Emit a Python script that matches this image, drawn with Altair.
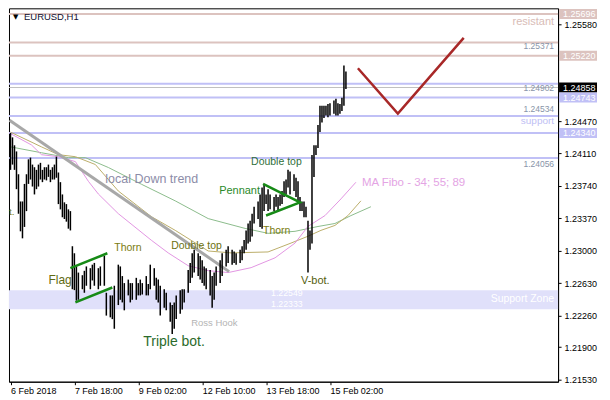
import altair as alt
import pandas as pd

W, H = 550, 374
FONT = "Liberation Sans"

# ---------------- data ----------------
BAR_HOUR = [0, 1, 2, 3, 4, 5, 6, 7, 8, 9, 10, 11, 12, 13, 14, 15, 16, 17, 18, 19, 20, 21, 22, 23,
            24, 25, 26, 27, 28, 29, 30, 31, 32, 33, 34, 36, 37, 38, 40, 41, 42, 44, 45, 47, 48, 50,
            51, 52, 54, 55, 56, 57, 59, 60, 61, 63, 64, 65, 66, 68, 69, 70, 72, 73, 74, 75, 77, 78,
            80, 81, 82, 83, 85, 86, 87, 89, 90, 91, 92, 94, 95, 96, 97, 98, 100, 101, 102, 103, 105,
            106, 108, 109, 111, 112, 113, 115, 116, 117, 118, 119, 120, 121, 122, 124, 125, 126, 127,
            128, 129, 130, 132, 133, 134, 135, 136, 137, 138, 139, 140, 142, 143, 144, 145, 146, 147,
            148, 149, 150, 151, 152, 153, 154, 155, 156, 157, 158, 159, 160, 162, 163, 164, 165, 166,
            167, 168]
BAR_HIGH = [1.2434, 1.2429, 1.2420, 1.2413, 1.2387, 1.2356, 1.2356, 1.2376, 1.2387, 1.2404, 1.2406,
            1.2398, 1.2395, 1.2392, 1.2398, 1.2400, 1.2392, 1.2395, 1.2395, 1.2398, 1.2392, 1.2395,
            1.2398, 1.2407, 1.2389, 1.2378, 1.2364, 1.2355, 1.2353, 1.2347, 1.2345, 1.2305, 1.2297,
            1.2282, 1.2275, 1.2272, 1.2277, 1.2282, 1.2280, 1.2284, 1.2286, 1.2280, 1.2282, 1.2294,
            1.2252, 1.2249, 1.2249, 1.2260, 1.2284, 1.2282, 1.2271, 1.2263, 1.2267, 1.2263, 1.2263,
            1.2269, 1.2263, 1.2267, 1.2263, 1.2271, 1.2262, 1.2284, 1.2280, 1.2269, 1.2267, 1.2260,
            1.2256, 1.2252, 1.2241, 1.2238, 1.2241, 1.2249, 1.2255, 1.2256, 1.2256, 1.2278, 1.2286,
            1.2297, 1.2301, 1.2297, 1.2294, 1.2289, 1.2282, 1.2280, 1.2278, 1.2271, 1.2275, 1.2282,
            1.2289, 1.2297, 1.2301, 1.2305, 1.2301, 1.2299, 1.2297, 1.2301, 1.2305, 1.2312, 1.2323,
            1.2331, 1.2334, 1.2342, 1.2350, 1.2356, 1.2364, 1.2372, 1.2376, 1.2364, 1.2370, 1.2364,
            1.2361, 1.2364, 1.2361, 1.2364, 1.2368, 1.2379, 1.2381, 1.2392, 1.2390, 1.2387, 1.2383,
            1.2379, 1.2361, 1.2356, 1.2356, 1.2350, 1.2334, 1.2323, 1.2409, 1.2420, 1.2420, 1.2443,
            1.2465, 1.2465, 1.2465, 1.2465, 1.2467, 1.2468, 1.2471, 1.2473, 1.2468, 1.2467, 1.2474,
            1.2511, 1.2504]
BAR_LOW = [1.2392, 1.2398, 1.2392, 1.2370, 1.2342, 1.2322, 1.2314, 1.2327, 1.2345, 1.2376, 1.2381,
           1.2373, 1.2364, 1.2370, 1.2373, 1.2381, 1.2378, 1.2381, 1.2380, 1.2384, 1.2378, 1.2381,
           1.2381, 1.2383, 1.2353, 1.2347, 1.2338, 1.2336, 1.2333, 1.2325, 1.2323, 1.2256, 1.2255,
           1.2243, 1.2244, 1.2256, 1.2252, 1.2260, 1.2256, 1.2266, 1.2260, 1.2256, 1.2260, 1.2260,
           1.2226, 1.2224, 1.2222, 1.2211, 1.2238, 1.2244, 1.2241, 1.2232, 1.2249, 1.2241, 1.2244,
           1.2244, 1.2249, 1.2249, 1.2250, 1.2249, 1.2249, 1.2256, 1.2260, 1.2244, 1.2241, 1.2226,
           1.2235, 1.2232, 1.2219, 1.2205, 1.2211, 1.2222, 1.2228, 1.2233, 1.2241, 1.2252, 1.2263,
           1.2269, 1.2275, 1.2271, 1.2267, 1.2263, 1.2260, 1.2256, 1.2249, 1.2235, 1.2244, 1.2260,
           1.2263, 1.2271, 1.2282, 1.2286, 1.2284, 1.2286, 1.2284, 1.2286, 1.2289, 1.2297, 1.2301,
           1.2308, 1.2310, 1.2316, 1.2331, 1.2336, 1.2327, 1.2325, 1.2345, 1.2353, 1.2345, 1.2347,
           1.2345, 1.2350, 1.2345, 1.2351, 1.2353, 1.2361, 1.2364, 1.2372, 1.2364, 1.2368, 1.2361,
           1.2356, 1.2345, 1.2345, 1.2338, 1.2338, 1.2275, 1.2301, 1.2308, 1.2384, 1.2409, 1.2417,
           1.2435, 1.2446, 1.2451, 1.2454, 1.2452, 1.2454, 1.2456, 1.2454, 1.2454, 1.2456, 1.2459,
           1.2465, 1.2484]

X_TICKS = [0, 32, 64, 96, 128, 160]
X_LABELS = ["6 Feb 2018", "7 Feb 18:00", "9 Feb 02:00", "12 Feb 10:00", "13 Feb 18:00", "15 Feb 02:00"]
Y_TICKS = [1.2153, 1.2190, 1.2226, 1.2263, 1.2300, 1.2337, 1.2374, 1.2411, 1.2447, 1.2558]

RESIST_LEVELS = [1.25696, 1.25371, 1.25220]
SUPPORT_LEVELS = [1.24902, 1.24743, 1.24534, 1.24340, 1.24056]
CURRENT_PRICE = [1.24858]
ZONE = [1.22333, 1.22549]

MARKER_PRICE = [1.25696, 1.25220, 1.24858, 1.24743, 1.24340]
MARKER_KIND = ["resistance", "resistance", "bid", "support", "support"]

TREND_HOUR = [-0.5, 109.5]
TREND_PRICE = [1.24484, 1.22761]

MA34_HOUR = [-0.5, 10.5, 15.5, 24, 32.5, 39, 44, 54, 70.5, 79, 89, 99, 109, 120.5, 132.5, 142.5,
             149, 157.5, 165.5, 173]
MA34_PRICE = [1.24339, 1.24204, 1.24093, 1.24070, 1.24014, 1.23790, 1.23645, 1.23421, 1.23119,
              1.22974, 1.22828, 1.22772, 1.22750, 1.22806, 1.22918, 1.23086, 1.23276, 1.23399,
              1.23589, 1.23779]
MA55_HOUR = [0, 15.5, 24, 32.5, 42.5, 54, 70.5, 82.5, 99, 110.5, 129, 140.5, 149, 155.5, 162.5, 169,
             175.5]
MA55_PRICE = [1.24350, 1.24182, 1.24093, 1.24070, 1.23981, 1.23679, 1.23388, 1.23231, 1.22996,
              1.22974, 1.22985, 1.23086, 1.23164, 1.23231, 1.23287, 1.23399, 1.23567]
MA89_HOUR = [0, 15.5, 29, 37.5, 49, 65.5, 82.5, 99, 117.5, 129, 142.5, 154, 162.5, 170.5, 180.5]
MA89_PRICE = [1.24182, 1.24115, 1.24059, 1.24059, 1.23947, 1.23757, 1.23567, 1.23365, 1.23253,
              1.23197, 1.23220, 1.23275, 1.23309, 1.23399, 1.23500]

FLAG_UPPER_HOUR = [30, 48.5]
FLAG_UPPER_PRICE = [1.2280, 1.2297]
FLAG_LOWER_HOUR = [32.5, 51]
FLAG_LOWER_PRICE = [1.2241, 1.2258]
PENNANT_HOUR = [126.5, 145, 128]
PENNANT_PRICE = [1.2376, 1.2355, 1.2340]
FORECAST_HOUR = [174, 194, 227]
FORECAST_PRICE = [1.25077, 1.24562, 1.25424]

NOTE_TEXT = ["local Down trend", "Flag", "Thorn", "Double top", "Triple bot.", "Ross Hook",
             "Pennant", "Double top", "Thorn", "V-bot.", "MA Fibo - 34; 55; 89", "1.22549", "1.22333"]
NOTE_HOUR = [47.5, 19, 52, 80.5, 66.5, 90.5, 104.5, 120.5, 126.5, 145.5, 176, 130.5, 130.5]
NOTE_PRICE = [1.23813, 1.22660, 1.23030, 1.23052, 1.21955, 1.22179, 1.23679, 1.24014, 1.23220,
              1.22649, 1.23768, 1.22515, 1.22392]

LEVEL_TEXT = ["resistant", "1.25371", "1.24902", "1.24534", "support", "1.24056", "Support Zone"]
LEVEL_PRICE = [1.25603, 1.25335, 1.24853, 1.24618, 1.24473, 1.23981, 1.22448]

# ---------------- styles ----------------
PINK = "#dcc3bf"
BLUE = "#c0c0f6"
NOTE_STYLE = [("#8c8ca8", 12.5), ("#5f6a14", 12), ("#7b7b10", 10.5), ("#6b7010", 10.5),
              ("#2b6b2b", 14), ("#b4b4b4", 9.5), ("#2a8a2a", 11), ("#2f6f3a", 10.5),
              ("#7b7b10", 10.5), ("#55600f", 11), ("#e4a4e4", 11.5), ("white", 8.8), ("white", 8.8)]
LEVEL_STYLE = [("#d8bcb6", 11), ("#8894a8", 8.5), ("#8894a8", 8.5), ("#8894a8", 8.5),
               ("#c0c0f4", 10), ("#8894a8", 8.5), ("white", 10.5)]

# 2 px per hourly bar
xs = alt.Scale(domain=[-0.75, W / 2 - 0.75], nice=False, zero=False)
ys = alt.Scale(domain=[1.21507, 1.25760], nice=False, zero=False)

label_expr = "[" + ",".join(f"'{s}'" for s in X_LABELS) + "][datum.value / 32]"
X_AXIS = alt.Axis(values=X_TICKS, labelExpr=label_expr, labelAlign="left", labelFont=FONT,
                  labelFontSize=9, labelColor="black", tickColor="black", domainColor="black",
                  tickSize=3, labelPadding=2, grid=False, title=None, labelFlush=False,
                  labelOverlap=False)
Y_AXIS = alt.Axis(orient="right", values=Y_TICKS, format=".5f", labelFont=FONT, labelFontSize=9,
                  labelColor="black", tickColor="black", domainColor="black", tickSize=3,
                  labelPadding=3, grid=False, title=None, labelOverlap=False, labelFlush=False)


def X(field="h"):
    return alt.X(f"{field}:Q", scale=xs, axis=X_AXIS)


def Y(field="p"):
    return alt.Y(f"{field}:Q", scale=ys, axis=Y_AXIS)


def line_layer(hours, prices, color, width):
    df = pd.DataFrame({"h": hours, "p": prices, "i": range(len(hours))})
    return alt.Chart(df).mark_line(color=color, strokeWidth=width, clip=True).encode(
        x=X(), y=Y(), order="i:Q")


layers = []

# support zone band
zone_df = pd.DataFrame({"lo": [ZONE[0]], "hi": [ZONE[1]]})
layers.append(alt.Chart(zone_df).mark_rect(color="#e0e0fa").encode(
    x=alt.value(0), x2=alt.value(W), y=Y("lo"), y2=alt.Y2("hi")))

# horizontal levels
layers.append(alt.Chart(pd.DataFrame({"p": RESIST_LEVELS})).mark_rule(color=PINK, strokeWidth=2)
              .encode(y=Y()))
layers.append(alt.Chart(pd.DataFrame({"p": SUPPORT_LEVELS})).mark_rule(color=BLUE, strokeWidth=2)
              .encode(y=Y()))
layers.append(alt.Chart(pd.DataFrame({"p": CURRENT_PRICE})).mark_rule(color="#c0c0c0", strokeWidth=1)
              .encode(y=Y()))

# moving averages
layers.append(line_layer(MA89_HOUR, MA89_PRICE, "#8cbc8c", 1))
layers.append(line_layer(MA55_HOUR, MA55_PRICE, "#bcae6a", 1))
layers.append(line_layer(MA34_HOUR, MA34_PRICE, "#e296e2", 1))

# trend line
layers.append(line_layer(TREND_HOUR, TREND_PRICE, "#a8a8a8", 3))

# price bars
bars_df = pd.DataFrame({"h": BAR_HOUR, "hi": BAR_HIGH, "lo": BAR_LOW})
layers.append(alt.Chart(bars_df).mark_rule(color="black", strokeWidth=1.5).encode(
    x=X(), y=Y("hi"), y2=alt.Y2("lo")))

# chart patterns
layers.append(line_layer(FLAG_UPPER_HOUR, FLAG_UPPER_PRICE, "#168a16", 2.5))
layers.append(line_layer(FLAG_LOWER_HOUR, FLAG_LOWER_PRICE, "#168a16", 2.5))
layers.append(line_layer(PENNANT_HOUR, PENNANT_PRICE, "#168a16", 2.5))
layers.append(line_layer(FORECAST_HOUR, FORECAST_PRICE, "#a82828", 2.5))

# notes
for t, h, p, (c, s) in zip(NOTE_TEXT, NOTE_HOUR, NOTE_PRICE, NOTE_STYLE):
    df = pd.DataFrame({"h": [h], "p": [p], "t": [t]})
    layers.append(alt.Chart(df).mark_text(align="left", baseline="middle", font=FONT, fontSize=s,
                                          color=c).encode(x=X(), y=Y(), text="t:N"))

# level labels at right edge
for t, p, (c, s) in zip(LEVEL_TEXT, LEVEL_PRICE, LEVEL_STYLE):
    df = pd.DataFrame({"p": [p], "t": [t]})
    layers.append(alt.Chart(df).mark_text(align="right", baseline="middle", font=FONT, fontSize=s,
                                          color=c).encode(x=alt.value(W - 4), y=Y(), text="t:N"))

# cropped label at left edge
layers.append(alt.Chart(pd.DataFrame({"p": [1.23444], "t": ["t."]})).mark_text(
    align="left", baseline="middle", font=FONT, fontSize=10, color="#7b7b10").encode(
    x=alt.value(0), y=Y(), text="t:N"))

# price markers on the axis
mk_df = pd.DataFrame({"p": MARKER_PRICE, "kind": MARKER_KIND,
                      "t": [f"{v:.5f}" for v in MARKER_PRICE]})
layers.append(alt.Chart(mk_df).mark_rule(strokeWidth=10, strokeCap="butt").encode(
    x=alt.value(W + 1), x2=alt.value(W + 39), y=Y(),
    color=alt.Color("kind:N", scale=alt.Scale(domain=["resistance", "bid", "support"],
                                              range=[PINK, "black", BLUE]), legend=None)))
layers.append(alt.Chart(mk_df).mark_text(align="left", baseline="middle", font=FONT, fontSize=9,
                                         color="white").encode(x=alt.value(W + 5), y=Y(), text="t:N"))

# symbol title
layers.append(alt.Chart(pd.DataFrame({"t": ["▼"]})).mark_text(
    align="left", baseline="middle", font="DejaVu Sans", fontSize=7, color="black").encode(
    x=alt.value(4), y=alt.value(9), text="t:N"))
layers.append(alt.Chart(pd.DataFrame({"t": ["EURUSD,H1"]})).mark_text(
    align="left", baseline="middle", font=FONT, fontSize=9.5, color="#101030").encode(
    x=alt.value(15), y=alt.value(9), text="t:N"))

chart = alt.layer(*layers).properties(
    width=W, height=H, padding={"left": 0, "top": 0, "right": 0, "bottom": 0}, background="white"
).configure_view(stroke="black", strokeWidth=1)

chart.save("out.html", embed_options={"renderer": "svg", "actions": False})
